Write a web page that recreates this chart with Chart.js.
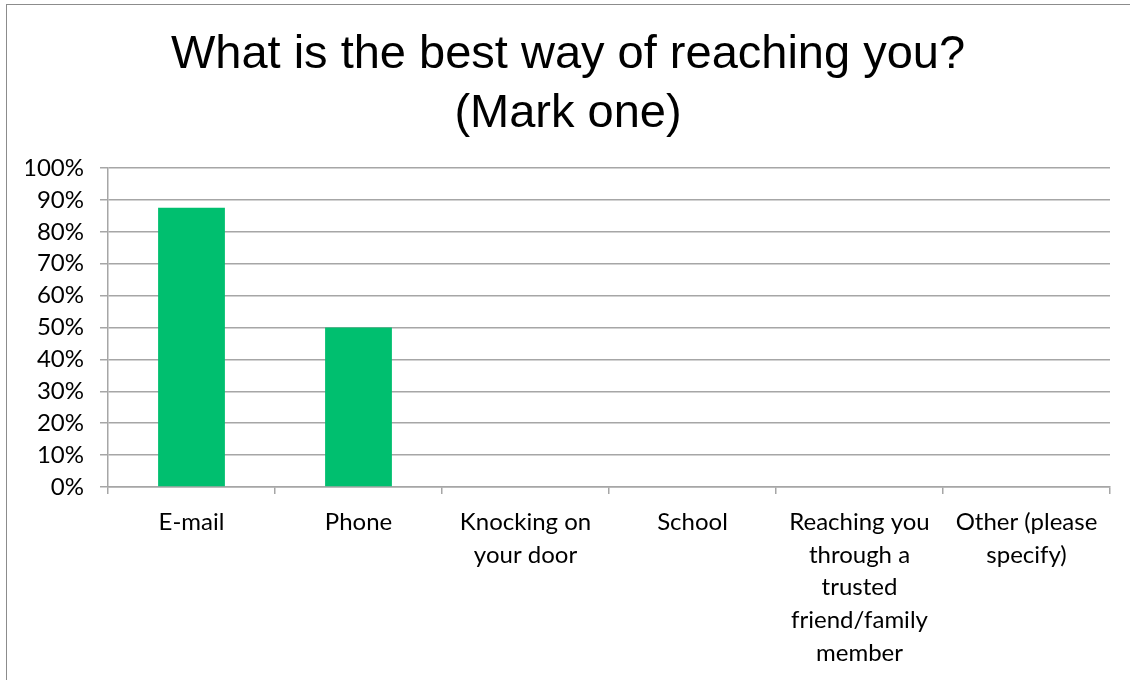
<!DOCTYPE html>
<html lang="en">
<head>
    <meta charset="UTF-8">
    <title>Best way of reaching you</title>
    <script src="https://cdn.jsdelivr.net/npm/chart.js"></script>
    <style>
        body, html {
            margin: 0;
            padding: 0;
            background-color: #ffffff;
            overflow: hidden;
        }

        .frame {
            position: absolute;
            left: 6px;
            top: 4px;
            width: 1300px;
            height: 900px;
            border: 1px solid #8c8c8c;
        }

        #reachChart {
            position: absolute;
            left: 0;
            top: 0;
        }
    </style>
</head>
<body>
    <div class="frame"></div>
    <canvas id="reachChart" width="1130" height="680"></canvas>

    <script>
        // Survey answers (share of respondents, %)
        const categories = [
            'E-mail',
            'Phone',
            ['Knocking on', 'your door'],
            'School',
            ['Reaching you', 'through a', 'trusted', 'friend/family', 'member'],
            ['Other (please', 'specify)']
        ];
        const shares = [87.5, 50, 0, 0, 0, 0];
        const percentTicks = [0, 10, 20, 30, 40, 50, 60, 70, 80, 90, 100];

        const gridGray = '#a6a6a6';
        const labelFont = { family: 'Lato', size: 24, lineHeight: 1.36 };

        new Chart(document.getElementById('reachChart').getContext('2d'), {
            type: 'bar',
            data: {
                labels: categories,
                datasets: [{
                    data: shares,
                    backgroundColor: '#00bf6f',
                    borderWidth: 0,
                    barPercentage: 0.4,
                    categoryPercentage: 1.0
                }]
            },
            options: {
                responsive: false,
                animation: false,
                layout: {
                    // left padding keeps the title centred where it belongs
                    padding: { left: 26, right: 20, top: 0, bottom: 0 }
                },
                plugins: {
                    legend: { display: false },
                    tooltip: { enabled: false },
                    title: {
                        display: true,
                        text: ['What is the best way of reaching you?', '(Mark one)'],
                        color: '#000000',
                        font: { family: 'Liberation Sans', size: 47, weight: 'normal', lineHeight: 1.255 },
                        padding: { top: 26, bottom: 24 }
                    }
                },
                scales: {
                    x: {
                        grid: {
                            offset: true,
                            drawOnChartArea: false,
                            tickLength: 7,
                            color: gridGray,
                            lineWidth: 1.5
                        },
                        border: { color: gridGray, width: 1.5 },
                        ticks: {
                            color: '#000000',
                            font: labelFont,
                            padding: 12,
                            maxRotation: 0,
                            autoSkip: false
                        },
                        afterFit: (scale) => { scale.height = 193; }
                    },
                    y: {
                        min: 0,
                        max: 100,
                        afterBuildTicks: (scale) => {
                            scale.ticks = percentTicks.map(v => ({ value: v }));
                        },
                        grid: {
                            tickLength: 8,
                            color: gridGray,
                            lineWidth: 1.5
                        },
                        border: { color: gridGray, width: 1.5 },
                        ticks: {
                            color: '#000000',
                            font: labelFont,
                            padding: 16,
                            autoSkip: false,
                            callback: (v) => v + '%'
                        },
                        afterFit: (scale) => { scale.width = 82; }
                    }
                }
            }
        });
    </script>
</body>
</html>
